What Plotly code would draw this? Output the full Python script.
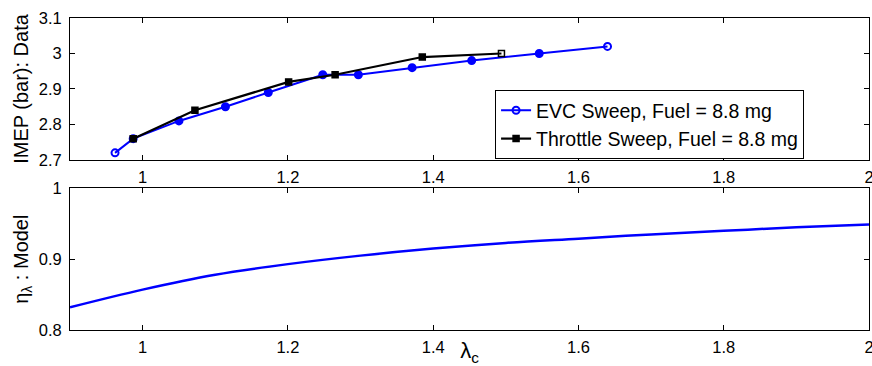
import plotly.graph_objects as go

# Measured IMEP from the EVC sweep (fuel held at 8.8 mg)
evc_lambda = [0.962, 0.987, 1.050, 1.114, 1.173, 1.248, 1.297, 1.371, 1.453, 1.546, 1.640]
evc_imep = [2.72, 2.76, 2.81, 2.85, 2.89, 2.94, 2.94, 2.96, 2.98, 3.00, 3.02]

# Measured IMEP from the throttle sweep (fuel held at 8.8 mg)
thr_lambda = [0.987, 1.072, 1.201, 1.265, 1.385, 1.494]
thr_imep = [2.76, 2.84, 2.92, 2.94, 2.99, 3.00]

# Modelled lambda efficiency
model_lambda = [0.90, 1.00, 1.10, 1.20, 1.30, 1.40, 1.50, 1.60, 1.70, 1.80, 1.90, 2.00]
model_eta = [0.832, 0.857, 0.878, 0.893, 0.905, 0.915, 0.923, 0.929, 0.935, 0.940, 0.945, 0.949]

x_ticks = [1.0, 1.2, 1.4, 1.6, 1.8, 2.0]
x_ticktext = ["1", "1.2", "1.4", "1.6", "1.8", "2"]
imep_ticks = [2.7, 2.8, 2.9, 3.0, 3.1]
imep_ticktext = ["2.7", "2.8", "2.9", "3", "3.1"]
eta_ticks = [0.8, 0.9, 1.0]
eta_ticktext = ["0.8", "0.9", "1"]

FONT = "Liberation Sans, Arial, sans-serif"
BLUE = "#0000ff"

evc_symbols = ["circle-open"] + ["circle"] * (len(evc_lambda) - 2) + ["circle-open"]
thr_symbols = ["square"] * (len(thr_lambda) - 1) + ["square-open"]

fig = go.Figure()

fig.add_trace(go.Scatter(
    x=evc_lambda, y=evc_imep, mode="lines+markers",
    name="EVC Sweep, Fuel = 8.8 mg",
    line=dict(color=BLUE, width=2),
    marker=dict(symbol=evc_symbols, size=7, color=BLUE, line=dict(color=BLUE, width=2)),
    xaxis="x", yaxis="y",
))
fig.add_trace(go.Scatter(
    x=thr_lambda, y=thr_imep, mode="lines+markers",
    name="Throttle Sweep, Fuel = 8.8 mg",
    line=dict(color="black", width=2.2),
    marker=dict(symbol=thr_symbols, size=6, color="black", line=dict(color="black", width=1.5)),
    xaxis="x", yaxis="y",
))
fig.add_trace(go.Scatter(
    x=model_lambda, y=model_eta, mode="lines", line_shape="spline",
    showlegend=False,
    line=dict(color=BLUE, width=2.5),
    xaxis="x2", yaxis="y2",
))

axis_common = dict(
    showgrid=False, zeroline=False, automargin=False,
    showline=True, linecolor="black", linewidth=1, mirror="ticks",
    ticks="inside", ticklen=5, tickwidth=1, tickcolor="black",
    tickfont=dict(family=FONT, size=16.5, color="black"),
    ticklabeloverflow="allow",
)

fig.update_layout(
    width=872, height=366,
    margin=dict(l=70, r=3, t=18, b=36),
    paper_bgcolor="white", plot_bgcolor="white",
    font=dict(family=FONT, size=16, color="black"),
    xaxis=dict(axis_common, domain=[0, 1], anchor="y", range=[0.9, 2.0],
               tickvals=x_ticks, ticktext=x_ticktext, ticklabelstandoff=2),
    yaxis=dict(axis_common, domain=[0.545, 1], anchor="x", range=[2.7, 3.1],
               tickvals=imep_ticks, ticktext=imep_ticktext, ticklabelstandoff=4,
               title=dict(text="IMEP (bar): Data", font=dict(family=FONT, size=20), standoff=4)),
    xaxis2=dict(axis_common, domain=[0, 1], anchor="y2", range=[0.9, 2.0],
                tickvals=x_ticks, ticktext=x_ticktext, ticklabelstandoff=2,
                title=dict(text="λ<sub>c</sub>", font=dict(family=FONT, size=22), standoff=0)),
    yaxis2=dict(axis_common, domain=[0, 0.454], anchor="x2", range=[0.8, 1.0],
                tickvals=eta_ticks, ticktext=eta_ticktext, ticklabelstandoff=4,
                title=dict(text="η<sub>λ</sub> : Model", font=dict(family=FONT, size=20), standoff=4)),
    legend=dict(
        x=0.532, y=0.769, xanchor="left", yanchor="top",
        bgcolor="white", bordercolor="black", borderwidth=1,
        font=dict(family=FONT, size=19.5, color="black"),
        tracegroupgap=0, itemwidth=30,
    ),
    showlegend=True,
)

fig.write_html("out.html")
